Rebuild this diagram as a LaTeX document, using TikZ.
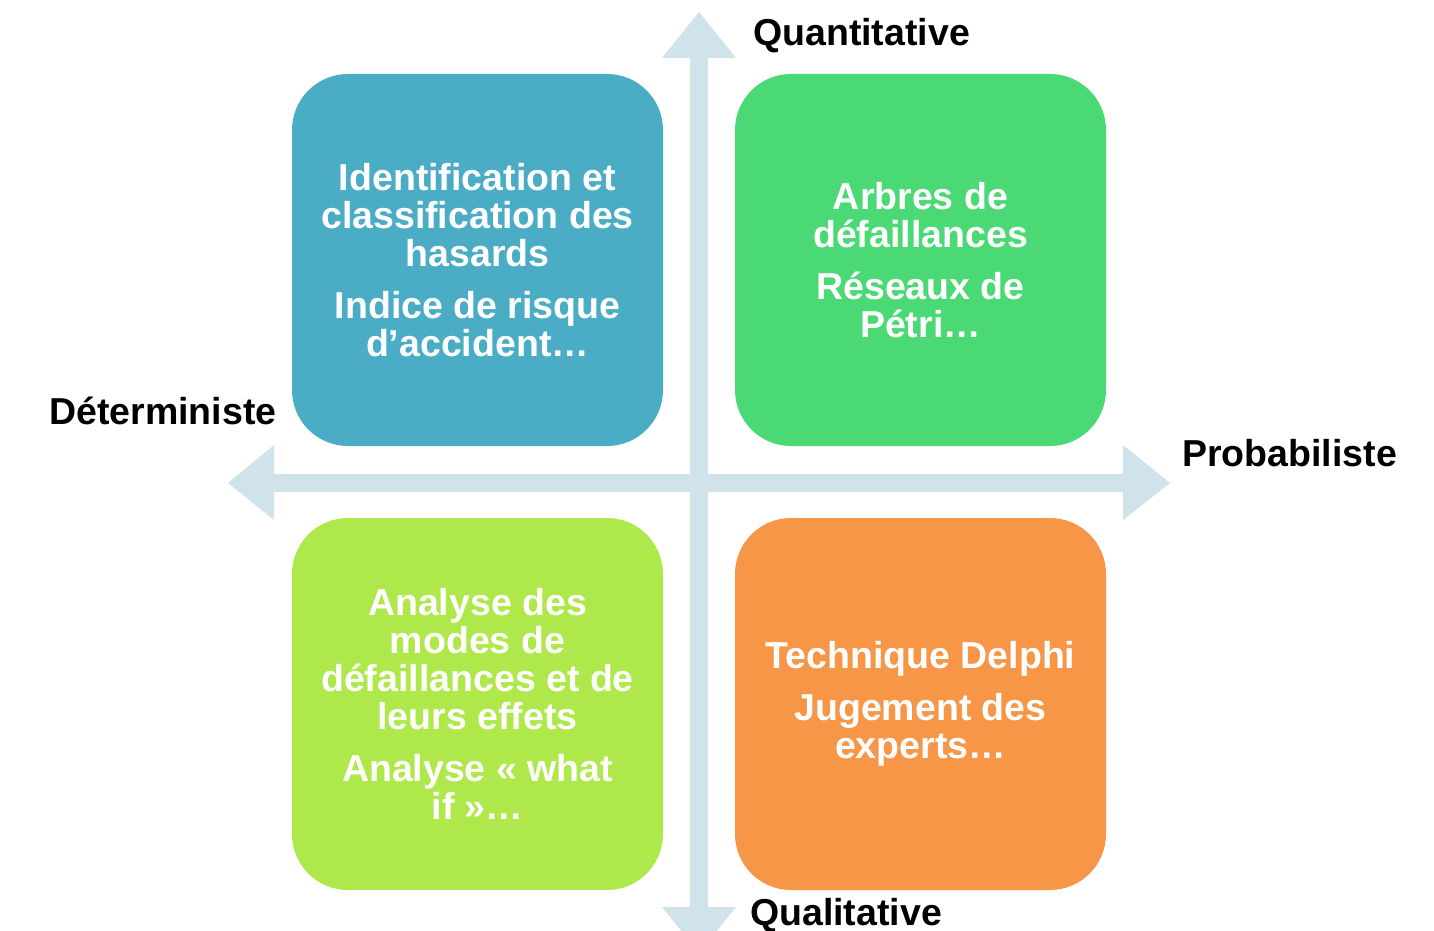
\documentclass[tikz,border=0pt]{standalone}
\usepackage{fontspec}
\setmainfont{Liberation Sans}
\usepackage{tikz}
\usetikzlibrary{positioning}

\definecolor{axisblue}{HTML}{D0E2EA}
\definecolor{boxblue}{HTML}{4BACC6}
\definecolor{boxgreen}{HTML}{4AD975}
\definecolor{boxlime}{HTML}{AEE84A}
\definecolor{boxorange}{HTML}{F79646}

\tikzset{
	quadbox/.style={draw=none,rounded corners=56pt,minimum width=371pt,minimum height=372pt,
		inner sep=0pt,align=center,text=white,font=\fontsize{37.5}{38}\selectfont\bfseries},
	axislabel/.style={inner sep=0pt,font=\fontsize{37.5}{40}\selectfont\bfseries,text=black}
}

\begin{document}
\begin{tikzpicture}[x=1pt,y=-1pt]
		\useasboundingbox (0,0) rectangle (1434,931);
		
		% axes
		\fill[axisblue] (690,58) -- (662,58) -- (699,12) -- (736,58) -- (708,58) -- (708,474)
			-- (1123,474) -- (1123,445) -- (1170,483) -- (1123,520) -- (1123,492) -- (708,492)
			-- (708,907) -- (736,907) -- (699,953) -- (662,907) -- (690,907) -- (690,492)
			-- (274,492) -- (274,520) -- (228,483) -- (274,445) -- (274,474) -- (690,474) -- cycle;
		
		% quadrants
		\node[quadbox,fill=boxblue] (ident) at (477.5,260) {Identification et\\classification des\\hasards\\[14pt]Indice de risque\\d’accident…};
		\node[quadbox,fill=boxgreen] (arbres) at (920.5,260) {Arbres de\\défaillances\\[14pt]Réseaux de\\Pétri…};
		\node[quadbox,fill=boxlime] (amdec) at (477.5,704) {Analyse des\\modes de\\défaillances et de\\leurs effets\\[14pt]Analyse « what\\if »…};
		\node[quadbox,fill=boxorange] (delphi) at (920.5,704) {Technique Delphi\\[14pt]Jugement des\\experts…};
		
		% labels
		\node[axislabel,anchor=west] (quanti) at (753,36) {Quantitative};
		\node[axislabel,anchor=west] (quali) at (750,916) {Qualitative};
		\node[axislabel,anchor=west] (deter) at (49,411) {Déterministe};
		\node[axislabel,anchor=west] (proba) at (1182,453) {Probabiliste};
	\end{tikzpicture}
\end{document}
